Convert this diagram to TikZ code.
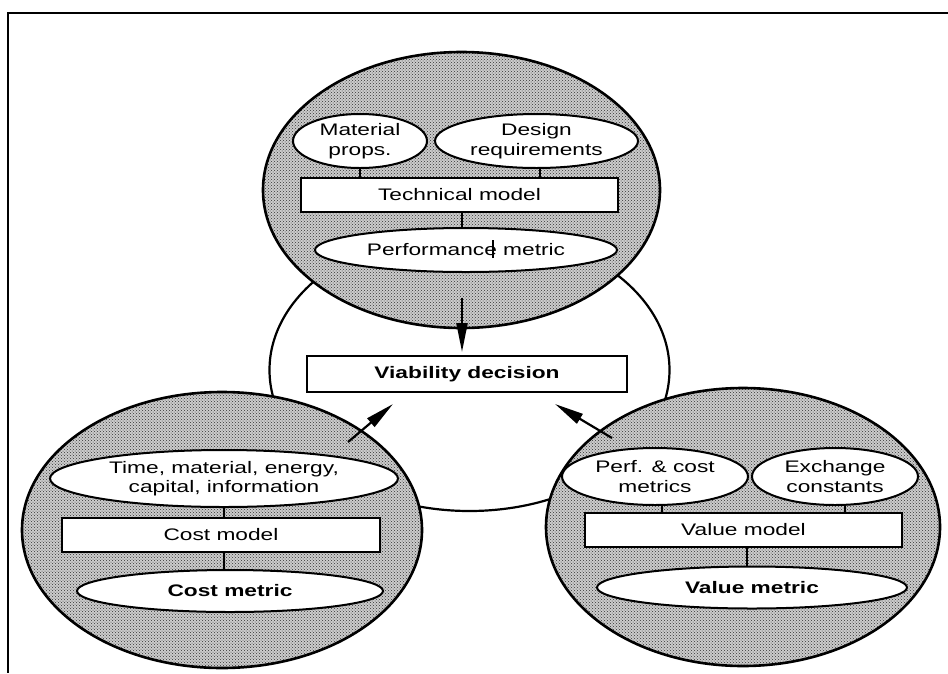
\documentclass[tikz,border=0pt]{standalone}
\usepackage{fontspec}
\setmainfont{Liberation Sans}[FakeStretch=1.36]
\usetikzlibrary{patterns,arrows.meta,calc,shapes.geometric}

\begin{document}
\begin{tikzpicture}[x=1pt,y=-1pt,
  every node/.style={font=\fontsize{16.7}{19.5}\selectfont, align=center, inner sep=0pt},
  zone/.style={ellipse, draw, line width=2.6pt, preaction={fill=black!20},
               pattern=crosshatch dots, pattern color=black!80},
  hub/.style={ellipse, draw, line width=2.2pt, fill=white},
  oval/.style={ellipse, draw, line width=2pt, fill=white},
  modelbox/.style={rectangle, draw, line width=2.2pt, fill=white},
  link/.style={line width=2pt},
  flow/.style={line width=2.2pt, -{Triangle[length=29pt,width=11pt]}}
]
\useasboundingbox (0,0) rectangle (948,673);

% frame
\draw[line width=2pt] (948,12.5) -- (7.5,12.5) -- (7.5,673);

% central decision region
\node[hub, minimum width=400pt, minimum height=282pt] (hub) at (469.5,370) {};
\node[modelbox, minimum width=320pt, minimum height=36pt] (viab) at (467,374) {\bfseries Viability decision};

% technical zone
\node[zone, minimum width=397pt, minimum height=276pt] (techzone) at (461.5,190) {};
\node[oval, minimum width=134pt, minimum height=54pt] (mat) at (360,141) {Material\\props.};
\node[oval, minimum width=203pt, minimum height=54pt] (des) at (536.5,141) {Design\\requirements};
\node[modelbox, minimum width=317pt, minimum height=34pt] (tech) at (459.5,195) {Technical model};
\node[oval, minimum width=302pt, minimum height=44pt] (perf) at (466,250) {Performance metric};
\draw[line width=1.4pt] ([xshift=27pt,yshift=-8pt]perf.center) -- ([xshift=27pt,yshift=10pt]perf.center);
\draw[link] (mat.south) -- (mat.south |- tech.north);
\draw[link] ([xshift=3.5pt]des.south) -- ([xshift=3.5pt]des.south |- tech.north);
\draw[link] ([xshift=2.5pt]tech.south) -- ([xshift=2.5pt]tech.south |- perf.north);

% cost zone
\node[zone, minimum width=400pt, minimum height=276pt] (costzone) at (222,530) {};
\node[oval, minimum width=348pt, minimum height=57pt] (res) at (224,478.5) {Time, material, energy,\\capital, information};
\node[modelbox, minimum width=318pt, minimum height=34pt] (cost) at (221,535) {Cost model};
\node[oval, minimum width=306pt, minimum height=42pt] (cmet) at (230,591) {\bfseries Cost metric};
\draw[link] (res.south) -- (res.south |- cost.north);
\draw[link] (res.south |- cost.south) -- (res.south |- cmet.north);

% value zone
\node[zone, minimum width=394pt, minimum height=278pt] (valzone) at (743,527) {};
\node[oval, minimum width=186pt, minimum height=57pt] (pc) at (655,476.5) {Perf. \& cost\\metrics};
\node[oval, minimum width=166pt, minimum height=57pt] (exch) at (835,476.5) {Exchange\\constants};
\node[modelbox, minimum width=317pt, minimum height=34pt] (val) at (743.5,530) {Value model};
\node[oval, minimum width=310pt, minimum height=42pt] (vmet) at (752,587.5) {\bfseries Value metric};
\draw[link] ([xshift=7pt]pc.south) -- ([xshift=7pt]pc.south |- val.north);
\draw[link] ([xshift=10pt]exch.south) -- ([xshift=10pt]exch.south |- val.north);
\draw[link] ([xshift=3.5pt]val.south) -- ([xshift=3.5pt]val.south |- vmet.north);

% flows into the decision
\coordinate (techout) at (462,298);
\coordinate (techin) at (462,352);
\coordinate (costout) at (348,442);
\coordinate (costin) at (393,404);
\coordinate (valout) at (612,438);
\coordinate (valin) at (555,404);
\draw[flow] (techout) -- (techin);
\draw[flow] (costout) -- (costin);
\draw[flow] (valout) -- (valin);
\end{tikzpicture}
\end{document}
